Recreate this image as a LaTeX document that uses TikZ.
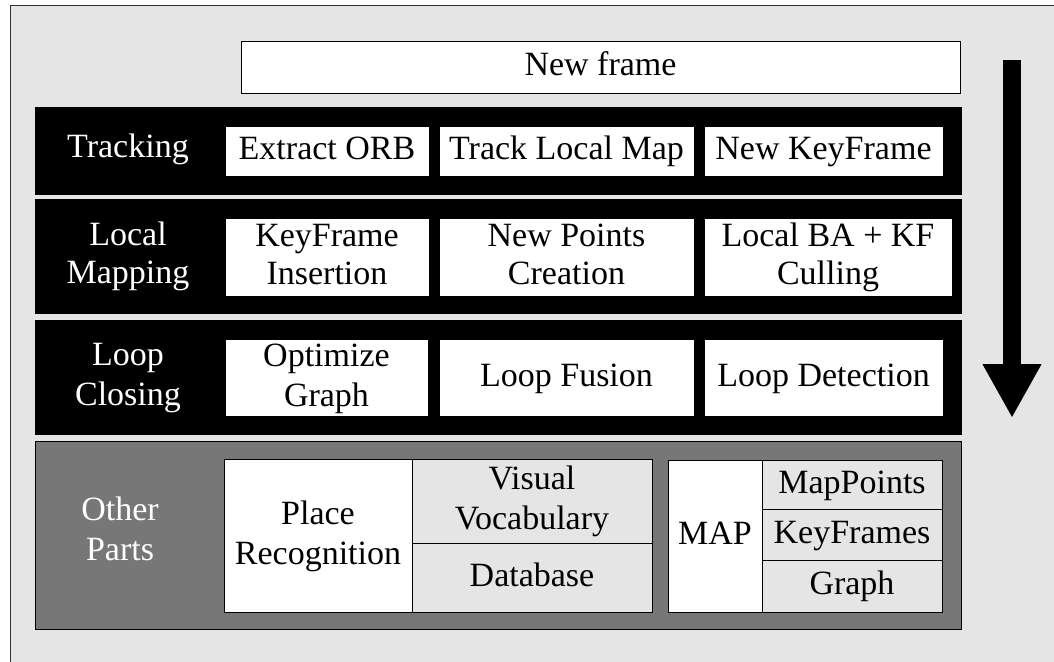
\documentclass[tikz,border=0pt]{standalone}
\usepackage{fontspec}
\setmainfont{Liberation Serif}
\usetikzlibrary{arrows.meta}
\definecolor{bglight}{HTML}{E5E5E5}
\definecolor{bgdark}{HTML}{777777}
\newcommand{\ls}{\rule[-10pt]{0pt}{37pt}}
\begin{document}
\begin{tikzpicture}[x=1pt,y=-1pt,
  every node/.style={inner sep=0pt,outer sep=0pt,align=center,
    font=\fontsize{34}{40}\selectfont},
  band/.style={fill=black,draw=black,line width=0.8pt},
  otherband/.style={fill=bgdark,draw=black,line width=0.8pt},
  wbox/.style={fill=white,draw=black,line width=0.8pt},
  gbox/.style={fill=bglight,draw=black,line width=0.8pt},
  blbl/.style={text=white},
  lm/.style={font=\fontsize{34}{38}\selectfont}]
\useasboundingbox (0,0) rectangle (1054,661);
\fill[white] (0,0) rectangle (1054,661);
\draw[fill=bglight,draw=black!80,line width=0.8pt] (10,5) rectangle (1070,680);

\node[wbox,minimum width=719pt,minimum height=52pt] (newframe) at (600.5,67) {\ls New frame};

% Tracking
\node[band,minimum width=926pt,minimum height=87pt] (band1) at (498,150.5) {};
\node[blbl] (tracking) at (128,149) {\ls Tracking};
\node[wbox,minimum width=204pt,minimum height=50pt] (extract) at (327,151) {\ls Extract ORB};
\node[wbox,minimum width=255pt,minimum height=50pt] (track) at (566.5,151) {\ls Track Local Map};
\node[wbox,minimum width=239pt,minimum height=50pt] (newkf) at (823.5,151) {\ls New KeyFrame};

% Local mapping
\node[band,minimum width=926pt,minimum height=114pt] (band2) at (498,256) {};
\node[blbl,lm] (localmapping) at (128,256) {\ls Local\\\ls Mapping};
\node[wbox,lm,minimum width=204pt,minimum height=78pt] (kfins) at (327,257) {\ls KeyFrame\\\ls Insertion};
\node[wbox,lm,minimum width=255pt,minimum height=78pt] (newpts) at (566.5,257) {\ls New Points\\\ls Creation};
\node[wbox,lm,minimum width=248pt,minimum height=78pt] (localba) at (828,257) {\ls Local BA + KF\\\ls Culling};

% Loop closing
\node[band,minimum width=926pt,minimum height=114pt] (band3) at (498,377) {};
\node[blbl] (loopclosing) at (128,377) {\ls Loop\\\ls Closing};
\node[wbox,minimum width=203pt,minimum height=77pt] (optg) at (326.5,377.5) {\ls Optimize\\\ls Graph};
\node[wbox,minimum width=255pt,minimum height=77pt] (loopfus) at (566.5,377.5) {\ls Loop Fusion};
\node[wbox,minimum width=239pt,minimum height=77pt] (loopdet) at (823.5,377.5) {\ls Loop Detection};

% Other parts
\node[otherband,minimum width=926pt,minimum height=188pt] (band4) at (498,535) {};
\node[blbl] (otherparts) at (120,532) {\ls Other\\\ls Parts};
\node[wbox,minimum width=188pt,minimum height=153pt] (place) at (318,535.5) {\ls Place\\\ls Recognition};
\node[gbox,minimum width=240pt,minimum height=84pt] (visvoc) at (532,501) {\ls Visual\\\ls Vocabulary};
\node[gbox,minimum width=240pt,minimum height=69pt] (db) at (532,577.5) {\ls Database};
\node[wbox,minimum width=94pt,minimum height=152pt] (map) at (715,536) {\ls MAP};
\node[gbox,minimum width=180pt,minimum height=49pt] (mappts) at (852,484.5) {\ls MapPoints};
\node[gbox,minimum width=180pt,minimum height=51pt] (kfs) at (852,534.5) {\ls KeyFrames};
\node[gbox,minimum width=180pt,minimum height=52pt] (graphn) at (852,586) {\ls Graph};

% Arrow
\coordinate (atop) at (1012,60);
\coordinate (atip) at (1012,418);
\draw[line width=18pt,-{Triangle[length=54pt,width=55pt]}] (atop) -- (atip);
\end{tikzpicture}
\end{document}
